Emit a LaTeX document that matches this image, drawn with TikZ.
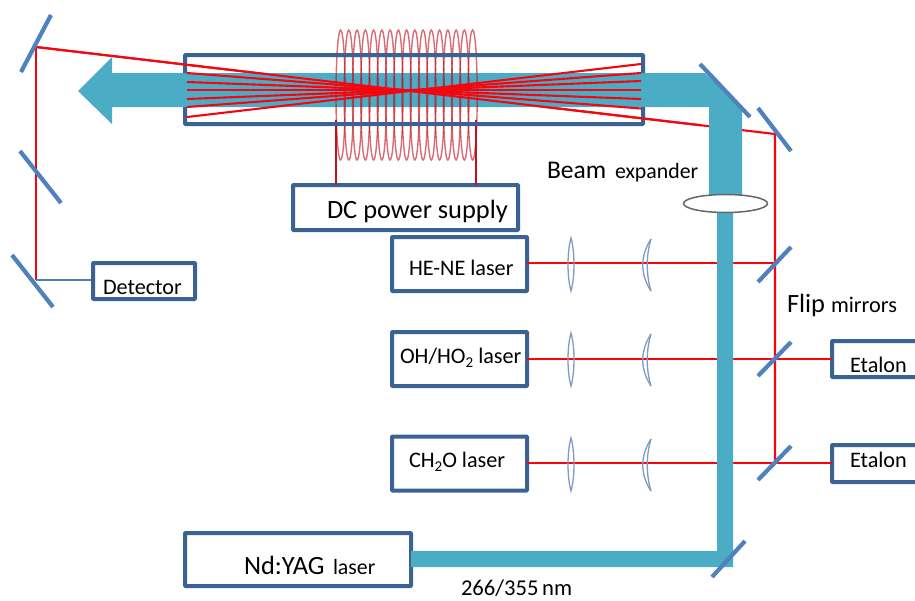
\documentclass[tikz,border=0pt]{standalone}
\usepackage{fontspec}
\setmainfont{Carlito}
\usetikzlibrary{calc,shapes.geometric}
\definecolor{beamc}{HTML}{4BACC6}
\definecolor{boxc}{HTML}{3A6292}
\definecolor{mirc}{HTML}{4F81BD}
\definecolor{rayc}{HTML}{F5060F}
\definecolor{coilc}{HTML}{C4101C}
\definecolor{lensc}{HTML}{7E9BC2}
\tikzset{
  boxn/.style={draw=boxc,line width=4pt,fill=white,rounded corners=0.8pt,minimum width=#1,inner sep=0pt,outer sep=0pt},
  ray/.style={draw=rayc,line width=2.1pt},
  mirror/.style={draw=mirc,line width=4.2pt},
  lab/.style={anchor=base west,inner sep=0pt,outer sep=0pt,text=black},
  beam/.style={fill=beamc,draw=none},
  lensl/.style={draw=lensc,line width=1.3pt},
  big/.style={font=\fontsize{26.4}{26.4}\selectfont},
  mid/.style={font=\fontsize{22.2}{22.2}\selectfont},
  sml/.style={font=\fontsize{21.8}{21.8}\selectfont},
}
\begin{document}
\begin{tikzpicture}[x=1pt,y=-1pt]
\useasboundingbox (0,0) rectangle (915,600);
\clip (0,0) rectangle (915,600);
% reference points
\coordinate (pDetM) at (36,47);
\coordinate (pDetB) at (36,280);
\coordinate (pOut) at (775,134);
\coordinate (pF1) at (775,263);
\coordinate (pF2) at (775,359);
\coordinate (pF3) at (775,463);
% boxes
\node[boxn=225pt,minimum height=45pt] (dc) at (405.5,207.5) {};
\coordinate (coilL) at (336,120);
\coordinate (coilR) at (476,120);
\draw[coilc,line width=1.7pt] (coilL) -- (coilL |- dc.north);
\draw[coilc,line width=1.7pt] (coilR) -- (coilR |- dc.north);
% outer rays behind the beam
\draw[ray] (pDetM) -- (pOut) -- (pF3);
\draw[ray] (pDetM) -- (pDetB);
\draw[mirc,line width=1.8pt] (pDetB) -- ++(57,0) coordinate (detIn);
\node[boxn=135pt,minimum height=54pt] (he) at (459.5,264) {};
\node[boxn=135pt,minimum height=54pt] (oh) at (459.5,359) {};
\node[boxn=135pt,minimum height=54pt] (ch) at (459.5,463.5) {};
\node[boxn=226pt,minimum height=53pt] (nd) at (298,559.5) {};
\node[boxn=102pt,minimum height=36pt] (det) at (144,281) {};
\node[boxn=90pt,minimum height=36pt] (et1) at (877,359) {};
\node[boxn=90pt,minimum height=37pt] (et2) at (877,463.5) {};
% laser rays
\draw[ray] (he.east |- pF1) -- (pF1);
\draw[ray] (oh.east |- pF2) -- (pF2) -- (et1.west |- pF2);
\draw[ray] (ch.east |- pF3) -- (pF3) -- (et2.west |- pF3);
% beams
\fill[beam] (112,73) -- (112,57) -- (78,91) -- (112,124) -- (112,107) -- (709,107) -- (709,195) -- (742,195) -- (742,108) -- (705,73) -- cycle;
\fill[beam] (717,210) -- (733,210) -- (733,567) -- (411,567) -- (411,551) -- (717,551) -- cycle;
% coil
\foreach \i in {0,...,16} {
  \draw[coilc,opacity=0.62,line width=1.4pt] ({340.6+\i*8.25},95) ellipse [x radius=4.6,y radius=65];
}
% tube frame, open where the beam passes
\draw[boxc,line width=4pt,rounded corners=0.8pt] (185,73) -- (185,55) -- (643,55) -- (643,73);
\draw[boxc,line width=4pt,rounded corners=0.8pt] (643,107) -- (643,124) -- (185,124) -- (185,107);
% multipass rays
\foreach \a/\b in {73/108.5,82/99,90/90,99/81,107/73,117/64} {
  \draw[ray] (187,\a) -- (641,\b);
}
\draw[ray] (pDetM) -- ($(pDetM)!0.90!(pOut)$);
% lens of the expander
\node[draw=black!60,line width=1.5pt,fill=white,ellipse,minimum width=84pt,minimum height=18pt,inner sep=0pt] (exp) at (725.5,203.5) {};
% mirrors
\draw[mirror] (700,64) -- (750,117);
\draw[mirror] (758,108) -- (791,151);
\draw[mirror] (21,72) -- (51,15);
\draw[mirror] (20,151) -- (61,203);
\draw[mirror] (12,255) -- (53,307);
\draw[mirror] (758,282) -- (791,247);
\draw[mirror] (758,376) -- (791,342);
\draw[mirror] (758,480) -- (791,446);
\draw[mirror] (712,577) -- (745,541);
% lenses
\foreach \y in {238,333,438} {
  \draw[lensl,shift={(0,\y)}] (571,0) .. controls (567,14) and (567,39) .. (571,53) .. controls (575,39) and (575,14) .. (571,0) -- cycle;
  \draw[lensl,shift={(0,\y)}] (651,1) .. controls (640,18) and (640,36) .. (651,53);
  \draw[lensl,shift={(0,\y)}] (651,1) .. controls (646,18) and (646,36) .. (651,53);
}
% labels
\node[lab,big] (tdc) at (327,218) {DC power supply};
\node[lab,font=\fontsize{25.5}{25.5}\selectfont] (tbeam) at (547,178) {Beam};
\node[lab,sml] (texp) at (615,178) {expander};
\node[lab,mid] (the) at (409,275) {HE-NE laser};
\node[lab,mid] (toh) at (400,363) {OH/HO\raisebox{-0.22em}{\fontsize{15}{15}\selectfont 2} laser};
\node[lab,mid] (tch) at (409,467) {CH\raisebox{-0.22em}{\fontsize{15}{15}\selectfont 2}O laser};
\node[lab,big] (tnd) at (244,574) {Nd:YAG};
\node[lab,sml] (tla) at (333,574) {laser};
\node[lab,font=\fontsize{22.6}{22.6}\selectfont] (tnm) at (461,595) {266/355\,nm};
\node[lab,mid] (tdet) at (103,294) {Detector};
\node[lab,big] (tflip) at (787,312) {Flip};
\node[lab,font=\fontsize{22.3}{22.3}\selectfont] (tmir) at (831,312) {mirrors};
\node[lab,mid] (te1) at (850,372) {Etalon};
\node[lab,mid] (te2) at (850,467) {Etalon};
\end{tikzpicture}
\end{document}
